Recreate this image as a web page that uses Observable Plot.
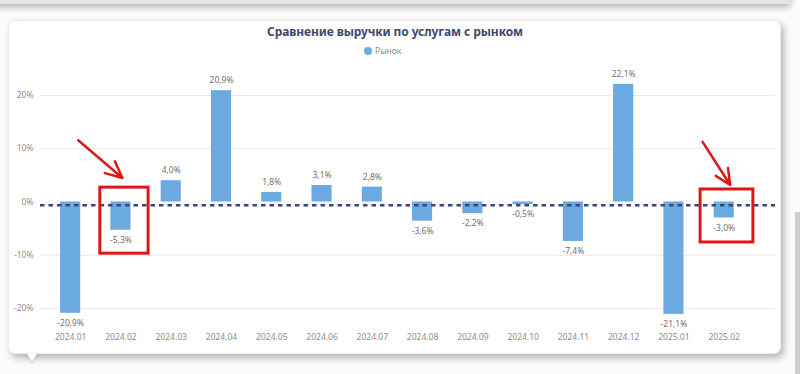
<!DOCTYPE html>
<html>
<head>
<meta charset="utf-8">
<script src="https://cdn.jsdelivr.net/npm/d3@7"></script>
<script src="https://cdn.jsdelivr.net/npm/@observablehq/plot@0.6"></script>
<style>
  html, body { margin: 0; padding: 0; background: #fbfbfb; width: 800px; height: 374px; overflow: hidden; font-family: "Noto Sans", "Open Sans", sans-serif; }
  #wrap { position: relative; width: 800px; height: 374px; }
  #topcard { position: absolute; left: -10px; top: -20px; width: 800px; height: 24px; background: #e4e4e6; box-shadow: 0 3px 7px rgba(0,0,0,0.30); }
  #card { position: absolute; left: 8px; top: 20px; width: 771px; height: 332px; background: #fff; border-radius: 7px; border: 1px solid #ececec; box-shadow: 3px 4px 7px rgba(0,0,0,0.28); }
  #notch { position: absolute; left: 26px; top: 352px; width: 0; height: 0; border-left: 6px solid transparent; border-right: 6px solid transparent; border-top: 10px solid #fff; filter: drop-shadow(0 2px 1px rgba(0,0,0,0.15)); }
  #scroll { position: absolute; left: 795px; top: 212px; width: 5px; height: 162px; background: #cfcfd2; }
  #title { position: absolute; left: 0; width: 790px; top: 23px; text-align: center; font-size: 12px; font-weight: 700; color: #3e4a6d; letter-spacing: -0.1px; }
  #legend { position: absolute; left: 364px; top: 45px; font-size: 8.5px; color: #8a8a8a; display: flex; align-items: center; }
  #legend .dot { width: 8px; height: 8px; border-radius: 50%; background: #6aaae0; margin-right: 3px; }
  #chart { position: absolute; left: 0; top: 0; }
</style>
</head>
<body>
<div id="wrap">
  <div id="topcard"></div>
  <div id="card"></div>
  <div id="notch"></div>
  <div id="scroll"></div>
  <div id="title">Сравнение выручки по услугам с рынком</div>
  <div id="legend"><span class="dot"></span><span>Рынок</span></div>
  <div id="chart"></div>
</div>
<script>
// Categories (months) and series values (%)
const months = ["2024.01","2024.02","2024.03","2024.04","2024.05","2024.06","2024.07","2024.08","2024.09","2024.10","2024.11","2024.12","2025.01","2025.02"];
const market = [-20.9, -5.3, 4.0, 20.9, 1.8, 3.1, 2.8, -3.6, -2.2, -0.5, -7.4, 22.1, -21.1, -3.0];
const yTicks = [-20, -10, 0, 10, 20];
const referenceLine = -0.6;

// Red annotation boxes and arrows (in data units: month index, percent)
const boxes = [
  {x1: 0.59, x2: 1.55, y1: 2.7, y2: -9.7},
  {x1: 12.53, x2: 13.58, y1: 2.35, y2: -7.6}
];
const arrows = [
  {x1: 0.15, y1: 11.6, x2: 1.03, y2: 4.5},
  {x1: 12.57, y1: 11.3, x2: 13.12, y2: 3.2}
];

const data = months.map((m, i) => ({i, month: m, value: market[i]}));
const pos = data.filter(d => d.value >= 0);
const neg = data.filter(d => d.value < 0);
const fmt = v => (v.toFixed(1) + "%").replace(".", ",");
const half = 0.2;

const chart = Plot.plot({
  width: 800,
  height: 374,
  marginLeft: 40,
  marginRight: 25,
  marginTop: 95,
  marginBottom: 66,
  style: {background: "transparent", fontFamily: "'Noto Sans', sans-serif"},
  x: {domain: [-0.6, 14.02], axis: null},
  y: {domain: [-20, 20], axis: null},
  marks: [
    Plot.gridY(yTicks.filter(t => t !== 0), {stroke: "#e9e9e9", strokeOpacity: 1, strokeWidth: 1}),
    Plot.axisY({ticks: yTicks, tickSize: 0, tickPadding: 7, tickFormat: d => d + "%", fontSize: 8.5, fill: "#8c8c8c"}),
    Plot.axisX({ticks: months.map((m, i) => i), tickFormat: i => months[i], tickSize: 0, tickPadding: 25, fontSize: 8.5, fill: "#8c8c8c", anchor: "bottom"}),
    Plot.rectY(data, {x1: d => d.i - half, x2: d => d.i + half, y1: 0, y2: "value", fill: "#6aaae0"}),
    Plot.ruleY([referenceLine], {stroke: "#3b4677", strokeWidth: 2.6, strokeDasharray: "4.5,4"}),
    Plot.text(pos, {x: "i", y: "value", text: d => fmt(d.value), dy: -10, fontSize: 8.5, fill: "#707070", lineAnchor: "middle"}),
    Plot.text(neg, {x: "i", y: "value", text: d => fmt(d.value), dy: 10, fontSize: 8.5, fill: "#707070", lineAnchor: "middle"}),
    Plot.rect(boxes, {x1: "x1", x2: "x2", y1: "y1", y2: "y2", fill: "none", stroke: "#e01616", strokeWidth: 3}),
    Plot.arrow(arrows, {x1: "x1", y1: "y1", x2: "x2", y2: "y2", stroke: "#e01616", strokeWidth: 2.5, headLength: 11, headAngle: 50})
  ]
});
document.getElementById("chart").appendChild(chart);
</script>
</body>
</html>
